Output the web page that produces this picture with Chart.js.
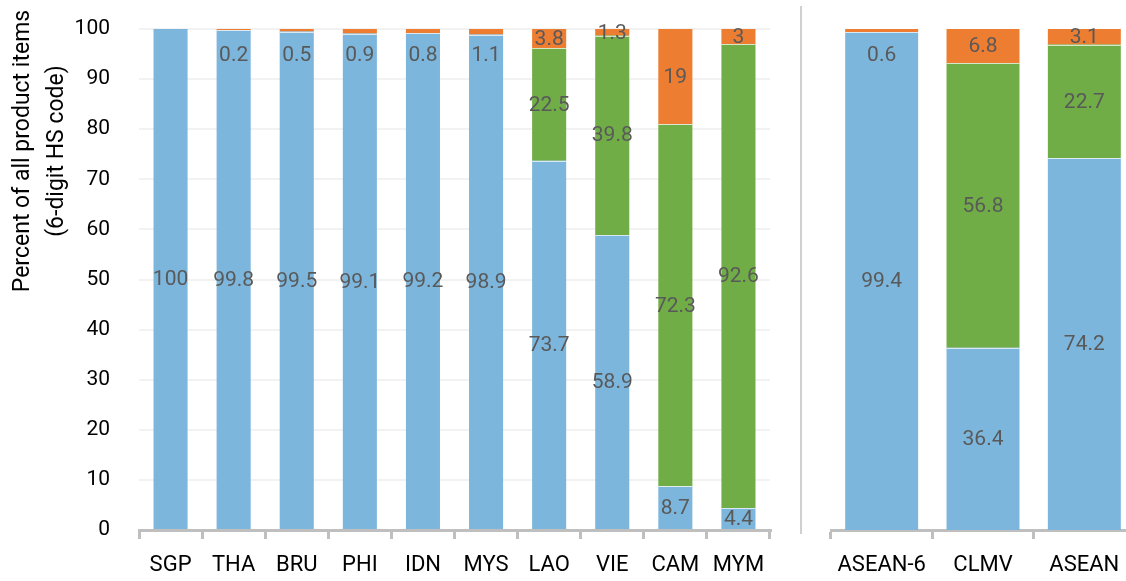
<!DOCTYPE html>
<html>
<head>
<meta charset="utf-8">
<script src="https://cdn.jsdelivr.net/npm/chart.js@4.4.1/dist/chart.umd.min.js"></script>
<style>
    html, body { margin: 0; padding: 0; background: #ffffff; overflow: hidden; }
    #wrap { position: relative; width: 1126px; height: 581px; overflow: hidden; }
    #leftBox { position: absolute; left: 0; top: 0; width: 785px; height: 581px; }
    #rightBox { position: absolute; left: 810px; top: 0; width: 340px; height: 581px; }
    #divider { position: absolute; left: 800px; top: 6px; width: 2px; height: 528px; background: #d0d0d0; }
</style>
</head>
<body>
<div id="wrap">
    <div id="leftBox"><canvas id="leftChart"></canvas></div>
    <div id="divider"></div>
    <div id="rightBox"><canvas id="rightChart"></canvas></div>
</div>

<script>
/* ==========================================
   Product items by tariff line status
========================================== */

// ---------------------------
// Data
// ---------------------------

const countryLabels = ["SGP", "THA", "BRU", "PHI", "IDN", "MYS", "LAO", "VIE", "CAM", "MYM"];
const countryBlue   = [100, 99.8, 99.5, 99.1, 99.2, 98.9, 73.7, 58.9, 8.7, 4.4];
const countryGreen  = [0, 0, 0, 0, 0, 0, 22.5, 39.8, 72.3, 92.6];
const countryOrange = [0, 0.2, 0.5, 0.9, 0.8, 1.1, 3.8, 1.3, 19, 3];

const groupLabels = ["ASEAN-6", "CLMV", "ASEAN"];
const groupBlue   = [99.4, 36.4, 74.2];
const groupGreen  = [0, 56.8, 22.7];
const groupOrange = [0.6, 6.8, 3.1];

const yTicks = [0, 10, 20, 30, 40, 50, 60, 70, 80, 90, 100];
const yTitleLines = ["Percent of all product items", "(6-digit HS code)"];

const BLUE = "#7db6dc";
const GREEN = "#70ad47";
const ORANGE = "#ed7d31";
const AXIS_GREY = "#bfbfbf";
const FONT = "Roboto";


// ---------------------------
// Plugins
// ---------------------------

// value labels in the middle of each segment
const segmentLabels = {

    id: "segmentLabels",

    afterDatasetsDraw(chart) {

        const ctx = chart.ctx;

        ctx.save();
        ctx.font = "21px " + FONT;
        ctx.fillStyle = "#595959";
        ctx.textAlign = "center";
        ctx.textBaseline = "middle";

        chart.data.datasets.forEach(function(ds, di){

            const meta = chart.getDatasetMeta(di);

            meta.data.forEach(function(bar, i){

                const v = ds.data[i];
                if (!v) return;

                let y = (bar.y + bar.base) / 2;

                // very thin orange slices: label pushed down into the bar
                if (ds.label === "orange" && v < 1.2) {
                    y = bar.y + 26;
                }

                ctx.fillText(String(v), bar.x, y + 1);

            });

        });

        ctx.restore();

    }

};

// rotated two-line y axis title
const yTitle = {

    id: "yTitle",

    afterDraw(chart) {

        const ctx = chart.ctx;

        ctx.save();
        ctx.font = "23px " + FONT;
        ctx.fillStyle = "#000000";
        ctx.textAlign = "center";
        ctx.textBaseline = "middle";
        ctx.translate(0, 151);
        ctx.rotate(-Math.PI / 2);

        ctx.fillText(yTitleLines[0], 0, 23);
        ctx.fillText(yTitleLines[1], 0, 57);

        ctx.restore();

    }

};

// thin white seams between stacked segments
const seams = {

    id: "seams",

    afterDatasetsDraw(chart) {

        const ctx = chart.ctx;

        ctx.save();
        ctx.strokeStyle = "rgba(255,255,255,0.7)";
        ctx.lineWidth = 1;

        chart.data.datasets.forEach(function(ds, di){

            if (di === 0) return;

            chart.getDatasetMeta(di).data.forEach(function(bar, i){

                if (!ds.data[i]) return;

                ctx.beginPath();
                ctx.moveTo(bar.x - bar.width / 2, Math.round(bar.base) + 0.5);
                ctx.lineTo(bar.x + bar.width / 2, Math.round(bar.base) + 0.5);
                ctx.stroke();

            });

        });

        ctx.restore();

    }

};


// ---------------------------
// Shared helpers
// ---------------------------

function makeDatasets(blue, green, orange, barPct) {

    return [

        { label: "blue",   data: blue,   backgroundColor: BLUE,   barPercentage: barPct, categoryPercentage: 1 },
        { label: "green",  data: green,  backgroundColor: GREEN,  barPercentage: barPct, categoryPercentage: 1 },
        { label: "orange", data: orange, backgroundColor: ORANGE, barPercentage: barPct, categoryPercentage: 1 }

    ];

}

function xScale() {

    return {

        stacked: true,

        grid: {
            offset: true,
            drawOnChartArea: false,
            drawTicks: true,
            tickLength: 9,
            color: AXIS_GREY,
            lineWidth: 3
        },

        border: {
            color: AXIS_GREY,
            width: 3
        },

        ticks: {
            color: "#000000",
            font: { family: FONT, size: 22 },
            padding: 13,
            maxRotation: 0,
            autoSkip: false
        },

        afterFit: function(scale){
            scale.height = 51;
        }

    };

}


// ---------------------------
// Left chart: member states
// ---------------------------

new Chart(document.getElementById("leftChart"), {

    type: "bar",

    data: {
        labels: countryLabels,
        datasets: makeDatasets(countryBlue, countryGreen, countryOrange, 0.54)
    },

    options: {

        responsive: true,
        maintainAspectRatio: false,
        animation: false,

        layout: {
            padding: { top: 29, right: 15, left: 0, bottom: 0 }
        },

        plugins: {
            legend: { display: false },
            tooltip: { enabled: false }
        },

        scales: {

            x: xScale(),

            y: {

                stacked: true,
                min: 0,
                max: 100,

                afterBuildTicks: function(scale){
                    scale.ticks = yTicks.map(function(v){ return { value: v }; });
                },

                grid: {
                    drawTicks: false,
                    color: "#f2f2f2",
                    lineWidth: 2
                },

                border: { display: false },

                ticks: {
                    color: "#000000",
                    font: { family: FONT, size: 21 },
                    padding: 29
                },

                afterFit: function(scale){
                    scale.width = 139;
                    // the big label gap should not push the plot down
                    scale.paddingTop = 12;
                    scale.paddingBottom = 12;
                }

            }

        }

    },

    plugins: [seams, segmentLabels, yTitle]

});


// ---------------------------
// Right chart: groups
// ---------------------------

new Chart(document.getElementById("rightChart"), {

    type: "bar",

    data: {
        labels: groupLabels,
        datasets: makeDatasets(groupBlue, groupGreen, groupOrange, 0.72)
    },

    options: {

        responsive: true,
        maintainAspectRatio: false,
        animation: false,

        layout: {
            padding: { top: 29, right: 15, left: 21, bottom: 0 }
        },

        plugins: {
            legend: { display: false },
            tooltip: { enabled: false }
        },

        scales: {

            x: xScale(),

            y: {
                stacked: true,
                display: false,
                min: 0,
                max: 100
            }

        }

    },

    plugins: [seams, segmentLabels]

});
</script>
</body>
</html>
